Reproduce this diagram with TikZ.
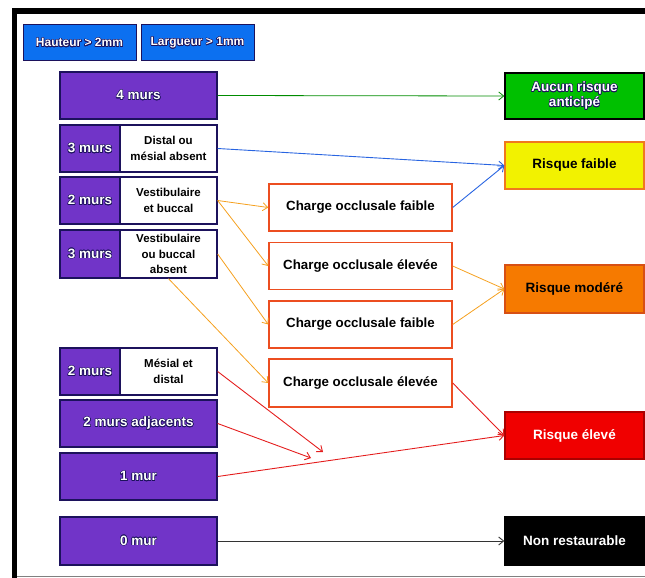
\documentclass[tikz,border=0pt]{standalone}
\usepackage{fontspec}
\setmainfont{Liberation Sans}
\usepackage{contour}
\contourlength{0.5pt}
\usetikzlibrary{arrows.meta}
\definecolor{purp}{RGB}{113,52,200}
\definecolor{navyb}{RGB}{28,18,92}
\definecolor{hblue}{RGB}{12,112,240}
\definecolor{chgb}{RGB}{236,78,32}
\definecolor{grn}{RGB}{0,192,0}
\definecolor{yel}{RGB}{242,242,0}
\definecolor{yelb}{RGB}{240,120,30}
\definecolor{org}{RGB}{246,122,0}
\definecolor{orgb}{RGB}{215,80,20}
\definecolor{rd}{RGB}{240,0,0}
\definecolor{rdb}{RGB}{170,0,0}
\definecolor{lgrn}{RGB}{0,140,0}
\definecolor{lblu}{RGB}{40,100,225}
\definecolor{lorg}{RGB}{245,160,30}
\definecolor{lred}{RGB}{228,30,30}
\newcommand{\wt}[1]{\contour{navyb}{\textcolor{white}{#1}}}
\begin{document}
\begin{tikzpicture}[x=1pt,y=-1pt,
  hdr/.style={draw=navyb, fill=hblue, line width=1pt, minimum width=113pt, minimum height=36pt, font=\bfseries\fontsize{12}{14}\selectfont, inner sep=0pt},
  pbox/.style={draw=navyb, fill=purp, line width=1.3pt, minimum height=47pt, font=\bfseries\fontsize{13.5}{15}\selectfont, inner sep=0pt},
  wbox/.style={draw=navyb, fill=white, line width=1.3pt, minimum width=97pt, minimum height=47pt, font=\bfseries\fontsize{11.5}{15.5}\selectfont, align=center, inner sep=0pt},
  chg/.style={draw=chgb, fill=white, line width=1.4pt, minimum width=183pt, minimum height=47pt, font=\bfseries\fontsize{13.3}{15}\selectfont, inner sep=0pt},
  rbox/.style={line width=1.3pt, minimum width=139pt, minimum height=47pt, font=\bfseries\fontsize{13.5}{15}\selectfont, align=center, inner sep=0pt},
  tip/.style={-{Straight Barb[length=5pt,width=8pt]}},
  garrow/.style={tip, draw=lgrn, line width=0.8pt},
  barrow/.style={tip, draw=lblu, line width=0.9pt},
  oarrow/.style={tip, draw=lorg, line width=0.8pt},
  rarrow/.style={tip, draw=lred, line width=0.9pt},
  karrow/.style={tip, draw=black!80, line width=0.9pt}
]
\useasboundingbox (0,0) rectangle (645,578);
% frame
\fill[black] (12,8) rectangle (645,14);
\fill[black] (12,8) rectangle (17,578);
\draw[gray, line width=1pt] (17,576.5) -- (645,576.5);
% header
\node[hdr] (hh) at (79.5,43) {\wt{Hauteur > 2mm}};
\node[hdr] (hl) at (197.5,43) {\wt{Largueur > 1mm}};
% left column
\node[pbox, minimum width=157pt] (m4) at (138.5,95.5) {\wt{4 murs}};
\node[pbox, minimum width=60pt] (r2p) at (90,148.5) {\wt{3 murs}};
\node[wbox] (r2t) at (168.5,148.5) {Distal ou\\mésial absent};
\node[pbox, minimum width=60pt] (r3p) at (90,200.5) {\wt{2 murs}};
\node[wbox] (r3t) at (168.5,200.5) {Vestibulaire\\et buccal};
\node[pbox, minimum width=60pt, minimum height=48pt] (r4p) at (90,254) {\wt{3 murs}};
\node[wbox, minimum height=48pt] (r4t) at (168.5,254) {Vestibulaire\\ou buccal\\absent};
\node[pbox, minimum width=60pt] (r5p) at (90,371.5) {\wt{2 murs}};
\node[wbox] (r5t) at (168.5,371.5) {Mésial et\\distal};
\node[pbox, minimum width=157pt] (adj) at (138.5,423.5) {\wt{2 murs adjacents}};
\node[pbox, minimum width=157pt] (m1) at (138.5,476.5) {\wt{1 mur}};
\node[pbox, minimum width=157pt, minimum height=48pt] (m0) at (138.5,541) {\wt{0 mur}};
% middle column
\node[chg] (c1) at (360.5,207.5) {Charge occlusale faible};
\node[chg] (c2) at (360.5,266) {Charge occlusale élevée};
\node[chg] (c3) at (360.5,324.5) {Charge occlusale faible};
\node[chg, minimum height=48pt] (c4) at (360.5,383) {Charge occlusale élevée};
% right column
\node[rbox, draw=black, fill=grn, minimum height=46pt] (ok) at (574.5,96) {\wt{Aucun risque}\\\wt{anticipé}};
\node[rbox, draw=yelb, fill=yel] (rf) at (574.5,165.5) {Risque faible};
\node[rbox, draw=orgb, fill=org, minimum height=48pt] (rm) at (574.5,289) {Risque modéré};
\node[rbox, draw=rdb, fill=rd] (re) at (574.5,435.5) {\textcolor{white}{Risque élevé}};
\node[rbox, draw=black, fill=black, minimum height=48pt] (nr) at (574.5,541) {\textcolor{white}{Non restaurable}};
% free ends
\coordinate (pa) at (323,452);
\coordinate (pb) at (311,458);
% connectors
\draw[garrow] (m4.east) -- (ok.west);
\draw[barrow] (r2t.east) -- (rf.west);
\draw[barrow] (c1.east) -- (rf.west);
\draw[oarrow] (r3t.east) -- (c1.west);
\draw[oarrow] (r3t.east) -- (c2.west);
\draw[oarrow] (r4t.east) -- (c3.west);
\draw[oarrow] (r4t.south) -- (c4.west);
\draw[oarrow] (c2.east) -- (rm.west);
\draw[oarrow] (c3.east) -- (rm.west);
\draw[rarrow] (c4.east) -- (re.west);
\draw[rarrow] (m1.east) -- (re.west);
\draw[rarrow] (r5t.east) -- (pa);
\draw[rarrow] (adj.east) -- (pb);
\draw[karrow] (m0.east) -- (nr.west);
\end{tikzpicture}
\end{document}
